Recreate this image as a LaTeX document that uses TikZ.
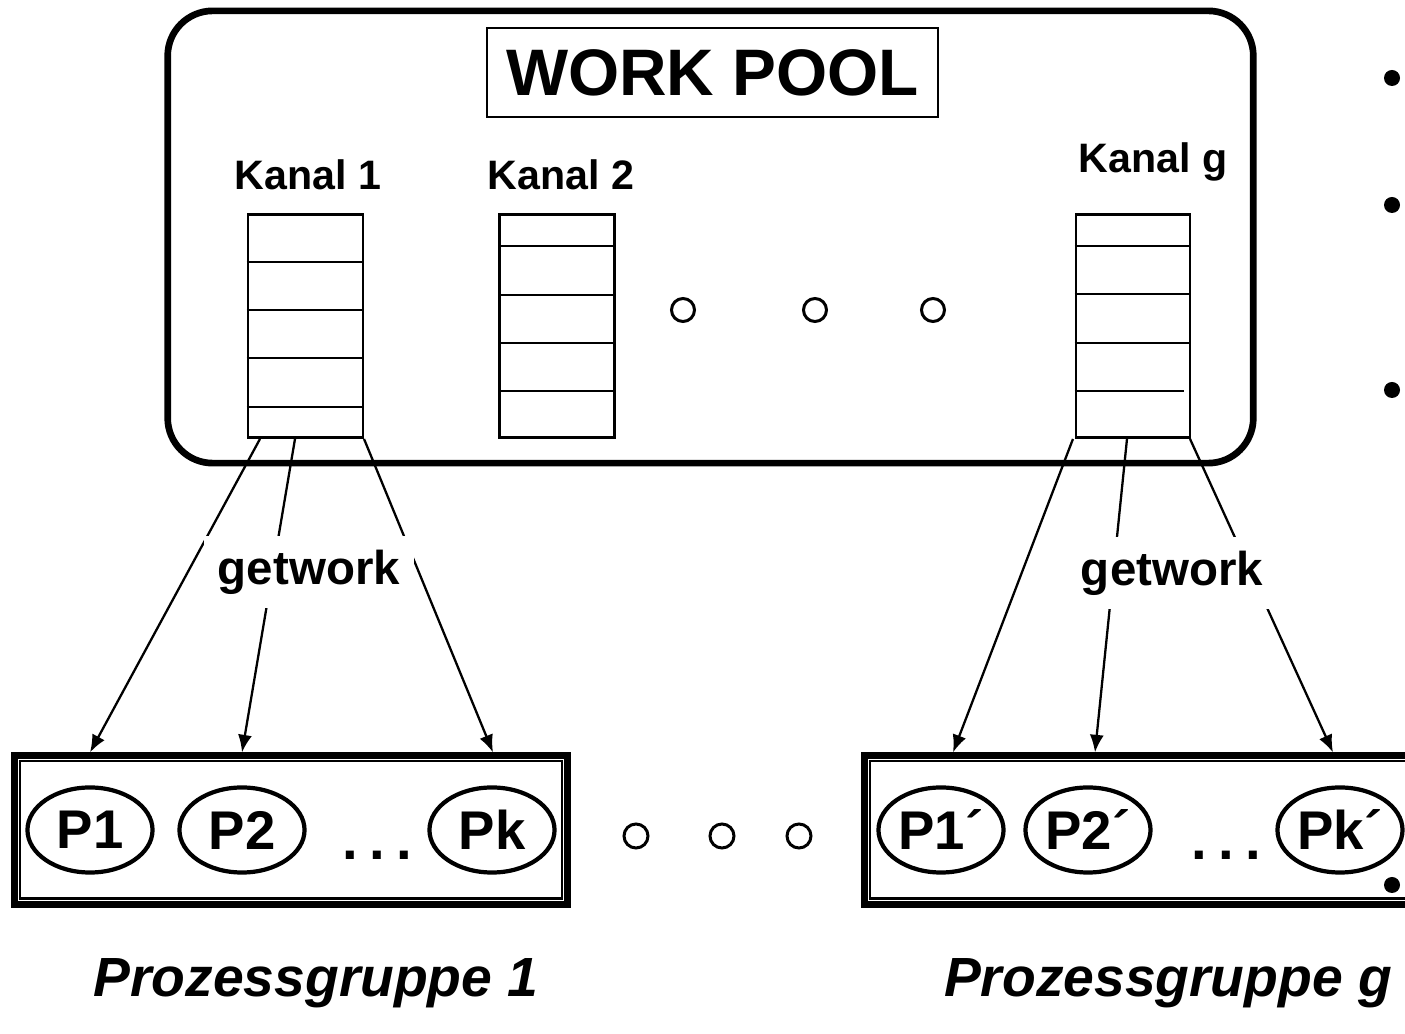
\documentclass[tikz,border=0pt]{standalone}
\usepackage{fontspec}
\setmainfont{Liberation Sans}
\usetikzlibrary{arrows.meta,shapes.geometric,backgrounds}
\begin{document}
\begin{tikzpicture}[x=0.01cm,y=-0.01cm,
  pool/.style={draw,line width=1.9pt,rounded corners=0.45cm,inner sep=0pt},
  titlebox/.style={draw,line width=0.45pt,inner sep=0pt,font=\fontsize{18.7}{22}\selectfont\bfseries},
  chan/.style={font=\fontsize{11.7}{14}\selectfont\bfseries},
  queuebox/.style={draw,line width=0.8pt,minimum width=1.15cm,minimum height=2.23cm,inner sep=0pt},
  qline/.style={line width=0.8pt},
  proc/.style={draw,ellipse,line width=1.2pt,minimum width=1.25cm,minimum height=0.85cm,inner sep=0pt,font=\fontsize{15.5}{18}\selectfont\bfseries},
  groupbox/.style={draw,line width=2pt,minimum height=1.48cm,inner sep=0pt},
  innerline/.style={line width=0.6pt},
  call/.style={font=\fontsize{13.5}{16}\selectfont\bfseries,fill=white,inner sep=4pt},
  getarrow/.style={line width=0.65pt,-{Latex[length=5pt,width=4pt]}},
  ring/.style={line width=0.85pt},
  dotsfont/.style={font=\fontsize{16}{18}\selectfont\bfseries,inner sep=0pt,anchor=base},
  grouplabel/.style={font=\fontsize{15.7}{18}\selectfont\bfseries\itshape},
  bullet/.style={fill=black}
]
\useasboundingbox (0,0) rectangle (1405,1034);
\clip (0,0) rectangle (1405,1034);

% work pool frame and title
\node[pool,minimum width=10.85cm,minimum height=4.52cm] (pool) at (710.5,237) {};
\node[titlebox,minimum width=4.51cm,minimum height=0.89cm] (title) at (712.5,72.5) {WORK POOL};

% channel labels
\node[chan] (k1) at (308,175) {Kanal 1};
\node[chan] (k2) at (561,175) {Kanal 2};
\node[chan] (kg) at (1153,162) {Kanal g};

% channel queues
\node[queuebox] (q1) at (305.5,326) {};
\node[queuebox] (q2) at (557,326) {};
\node[queuebox,minimum width=1.14cm] (qg) at (1133,326) {};
\foreach \yy in {262,310,358,407}
  \draw[qline] (q1.west |- 0,\yy) -- (q1.east |- 0,\yy);
\foreach \yy in {246,295,343,391}
  \draw[qline] (q2.west |- 0,\yy) -- (q2.east |- 0,\yy);
\foreach \yy in {246,294,343}
  \draw[qline] (qg.west |- 0,\yy) -- (qg.east |- 0,\yy);
\draw[qline] (qg.west |- 0,391) -- (1184,391);

% ellipsis between channels
\foreach \xx in {683,815,933}
  \draw[ring] (\xx,310) circle (11.5);

% process groups: thick outer frame with a thin inner frame
\node[groupbox,minimum width=5.52cm] (g1) at (291,830) {};
\draw[innerline] ([shift={(9,9)}]g1.north west) rectangle ([shift={(-9,-9)}]g1.south east);
\node[groupbox,minimum width=5.55cm] (gg) at (1142.5,830) {};
\draw[innerline] ([shift={(9,9)}]gg.north west) rectangle ([shift={(-9,-9)}]gg.south east);

\node[proc] (p1) at (90,830) {P1};
\node[proc] (p2) at (242,830) {P2};
\node[proc] (pk) at (492,830) {Pk};
\node[dotsfont] (d1) at (377,860) {.\hspace{3.2pt}.\hspace{3.2pt}.};

\node[proc] (pg1) at (941,830) {P1´};
\node[proc] (pg2) at (1088,830) {P2´};
\node[proc] (pgk) at (1340,830) {Pk´};
\node[dotsfont] (dg) at (1226,860) {.\hspace{3.2pt}.\hspace{3.2pt}.};

% ellipsis between groups
\foreach \xx in {636,722,799}
  \draw[ring] (\xx,836) circle (12);

% getwork labels
\node[call] (gw1) at (309,572) {getwork};
\node[call] (gwg) at (1172,573) {getwork};

% getwork connectors
\begin{scope}[on background layer]
  \draw[getarrow] ([xshift=-0.455cm]q1.south) -- (p1 |- g1.north);
  \draw[getarrow] ([xshift=-0.105cm]q1.south) -- (p2 |- g1.north);
  \draw[getarrow] ([xshift=0.585cm]q1.south) -- ([xshift=0.01cm]pk |- g1.north);
  \draw[getarrow] ([xshift=-0.6cm]qg.south) -- ([xshift=0.12cm]pg1 |- gg.north);
  \draw[getarrow] ([xshift=-0.06cm]qg.south) -- ([xshift=0.07cm]pg2 |- gg.north);
  \draw[getarrow] ([xshift=0.57cm]qg.south) -- ([xshift=-0.07cm]pgk |- gg.north);
\end{scope}

% group captions
\node[grouplabel] (cap1) at (316,983) {Prozessgruppe 1};
\node[grouplabel] (capg) at (1168,983) {Prozessgruppe g};

% bullets of the neighbouring list
\foreach \yy in {78,205,390,885}
  \fill[bullet] (1392,\yy) circle (8);
\end{tikzpicture}
\end{document}
